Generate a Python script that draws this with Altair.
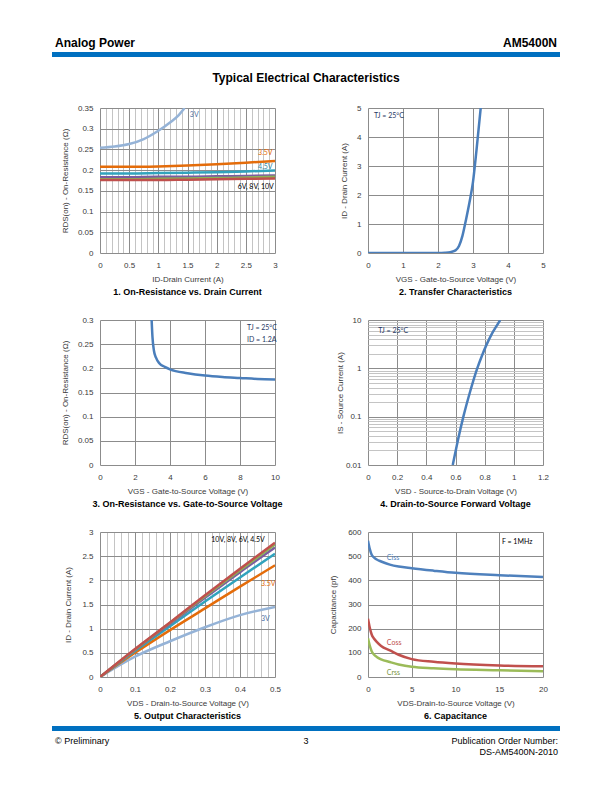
import altair as alt
import pandas as pd

FONT = "Liberation Sans"
ANN_FONT = "Lato"
W, H = 175, 145
MAJOR = "#8c8c8c"
MINOR = "#c4c4c4"
TXT = "#3a3a3a"
BAR = "#0070c0"
CURVE = "#4a7ebb"

# ---------- 1. On-Resistance vs. Drain Current ----------
c1_id_3v = [0, 0.25, 0.5, 0.75, 1.0, 1.2, 1.35, 1.45]
c1_rds_3v = [0.254, 0.257, 0.263, 0.275, 0.295, 0.315, 0.333, 0.350]
c1_id = [0, 0.5, 1.0, 1.5, 2.0, 2.5, 3.0]
c1_rds_3p5 = [0.208, 0.208, 0.209, 0.211, 0.214, 0.218, 0.222]
c1_rds_4p5 = [0.192, 0.192, 0.193, 0.194, 0.195, 0.197, 0.199]
c1_rds_6 = [0.183, 0.183, 0.184, 0.184, 0.185, 0.186, 0.187]
c1_rds_8 = [0.178, 0.178, 0.179, 0.180, 0.181, 0.182, 0.184]
c1_rds_10 = [0.176, 0.176, 0.176, 0.177, 0.178, 0.179, 0.180]
c1_names = ["3V", "3.5V", "4.5V", "6V", "8V", "10V"]
c1_colors = ["#95b3d7", "#e46c0a", "#31a3bd", "#7a5ca0", "#8db255", "#c0504d"]
c1_ann_text = ["3V", "3.5V", "4.5V", "6V, 8V, 10V"]
c1_ann_x = [1.54, 2.71, 2.71, 2.36]
c1_ann_y = [0.334, 0.242, 0.208, 0.159]
c1_ann_color = ["#4f6fa5", "#e46c0a", "#31859c", "#000000"]

# ---------- 2. Transfer Characteristics ----------
c2_vgs = [0, 1, 2, 2.2, 2.35, 2.5, 2.6, 2.7, 2.8, 2.9, 3.0, 3.1, 3.22]
c2_id = [0, 0, 0.002, 0.01, 0.03, 0.09, 0.24, 0.6, 1.15, 1.75, 2.45, 3.55, 5.0]
c2_ann_text = ["TJ = 25°C"]
c2_ann_x = [0.17]
c2_ann_y = [4.72]
c2_ann_color = ["#1f3864"]

# ---------- 3. On-Resistance vs. Gate-to-Source Voltage ----------
c3_vgs = [2.95, 3.0, 3.08, 3.2, 3.4, 3.7, 4, 5, 6, 7, 8, 9, 10]
c3_rds = [0.300, 0.264, 0.237, 0.222, 0.210, 0.203, 0.198, 0.190, 0.185, 0.182, 0.180, 0.178, 0.177]
c3_ann_text = ["TJ = 25°C", "ID = 1.2A"]
c3_ann_x = [8.4, 8.4]
c3_ann_y = [0.2835, 0.2585]
c3_ann_color = ["#1f3864", "#1f3864"]

# ---------- 4. Drain-to-Source Forward Voltage ----------
c4_vsd = [0.581, 0.615, 0.654, 0.699, 0.749, 0.78, 0.81, 0.85, 0.88, 0.907]
c4_is = [0.01, 0.031, 0.1, 0.32, 1.0, 1.78, 2.95, 5.25, 7.4, 10]
c4_ann_text = ["TJ = 25°C"]
c4_ann_x = [0.07]
c4_ann_y = [6.0]
c4_ann_color = ["#1f3864"]

# ---------- 5. Output Characteristics ----------
c5_vds = [0, 0.1, 0.2, 0.3, 0.4, 0.5]
c5_id_3v = [0, 0.42, 0.74, 1.03, 1.28, 1.45]
c5_id_3p5 = [0, 0.50, 0.97, 1.42, 1.87, 2.31]
c5_id_4p5 = [0, 0.54, 1.05, 1.56, 2.06, 2.55]
c5_id_6 = [0, 0.56, 1.10, 1.64, 2.17, 2.68]
c5_id_8 = [0, 0.57, 1.12, 1.67, 2.21, 2.74]
c5_id_10 = [0, 0.58, 1.13, 1.69, 2.24, 2.78]
c5_names = ["3V", "3.5V", "4.5V", "6V", "8V", "10V"]
c5_colors = ["#95b3d7", "#e46c0a", "#31a3bd", "#7a5ca0", "#8db255", "#c0504d"]
c5_ann_text = ["10V, 8V, 6V, 4.5V", "3.5V", "3V"]
c5_ann_x = [0.318, 0.46, 0.46]
c5_ann_y = [2.834, 1.924, 1.2]
c5_ann_color = ["#000000", "#e46c0a", "#4f6fa5"]

# ---------- 6. Capacitance ----------
c6_vds = [0, 0.2, 0.42, 0.7, 1, 1.5, 2.5, 3.5, 5, 7.5, 10, 15, 20]
c6_ciss = [564, 530, 506, 494, 486, 478, 465, 457, 450, 440, 431, 421, 414]
c6_coss = [241, 205, 176, 158, 145, 128, 110, 92, 74, 63, 56, 48, 44]
c6_crss = [160, 130, 107, 92, 83, 73, 62, 52, 42, 36, 32, 28, 24]
c6_names = ["Ciss", "Coss", "Crss"]
c6_colors = ["#4f81bd", "#c0504d", "#9bbb59"]
c6_ann_text = ["Ciss", "Coss", "Crss", "F = 1MHz"]
c6_ann_x = [2.15, 2.15, 2.15, 15.3]
c6_ann_y = [492, 141, 17, 560]
c6_ann_color = ["#4f81bd", "#c0504d", "#77933c", "#000000"]


def series_df(items):
    rows = []
    for name, xs, ys in items:
        for a, b in zip(xs, ys):
            rows.append({"x": a, "y": b, "s": name})
    return pd.DataFrame(rows)


def ann_df(t, x, y, c):
    return pd.DataFrame({"t": t, "x": x, "y": y, "c": c})


def xaxis(values, title, major_test=None):
    kw = dict(values=values, title=title, grid=True, labelOverlap=False, labelFlush=False,
              titleX=W / 2, titleY=26, titleBaseline="middle", titleAlign="center",
              labelPadding=8)
    if major_test:
        kw["gridColor"] = {"condition": {"test": major_test, "value": MAJOR}, "value": MINOR}
        kw["labelExpr"] = f"({major_test}) ? format(datum.value, '~r') : ''"
    else:
        kw["format"] = "~r"
    return alt.Axis(**kw)


def yaxis(values, title, tx, major_test=None):
    kw = dict(values=values, title=title, grid=True, labelOverlap=False, labelFlush=False,
              titleX=tx, titleY=H / 2, titleAngle=270, titleBaseline="middle",
              titleAlign="center", labelPadding=7)
    if major_test:
        kw["gridColor"] = {"condition": {"test": major_test, "value": MAJOR}, "value": MINOR}
        kw["labelExpr"] = f"({major_test}) ? format(datum.value, '~r') : ''"
    else:
        kw["format"] = "~r"
    return alt.Axis(**kw)


def txt(s, x, y, size, weight="normal", align="left", color="#000000"):
    return alt.Chart(pd.DataFrame({"t": [s]})).mark_text(
        font=FONT, fontSize=size, fontWeight=weight, align=align, baseline="middle", color=color
    ).encode(x=alt.value(x), y=alt.value(y), text="t:N")


def bar(x1, x2, y1, y2, color=BAR, opacity=1.0):
    return alt.Chart(pd.DataFrame({"a": [0]})).mark_rect(color=color, opacity=opacity).encode(
        x=alt.value(x1), x2=alt.value(x2), y=alt.value(y1), y2=alt.value(y2))


def panel(df, names, colors, xsc, ysc, xax, yax, ann, caption, extra=()):
    lines = alt.Chart(df).mark_line(strokeWidth=2.5, interpolate="monotone", clip=True).encode(
        x=alt.X("x:Q", scale=xsc, axis=xax),
        y=alt.Y("y:Q", scale=ysc, axis=yax),
        color=alt.Color("s:N", scale=alt.Scale(domain=names, range=colors), legend=None),
    )
    notes = alt.Chart(ann).mark_text(font=ANN_FONT, fontSize=7, align="left", baseline="middle").encode(
        x=alt.X("x:Q", scale=xsc, axis=xax),
        y=alt.Y("y:Q", scale=ysc, axis=yax),
        text="t:N",
        color=alt.Color("c:N", scale=None),
    )
    cap = txt(caption, W / 2, H + 39, 9, weight="bold", align="center")
    return alt.layer(lines, notes, cap, *extra).properties(width=W, height=H)


# ---- panel 1
x1 = [round(i * 0.1, 1) for i in range(31)]
y1 = [0, 0.05, 0.1, 0.15, 0.2, 0.25, 0.3, 0.35]
header = [
    bar(-92, -91, -100, -99, color="#ffffff", opacity=0),
    txt("Analog Power", -45, -65, 12, weight="bold"),
    txt("AM5400N", 457, -65, 12, weight="bold", align="right"),
    bar(-48, 460, -56, -51),
    txt("Typical Electrical Characteristics", 206, -30, 12, weight="bold", align="center"),
]
p1 = panel(
    series_df([("3V", c1_id_3v, c1_rds_3v), ("3.5V", c1_id, c1_rds_3p5), ("4.5V", c1_id, c1_rds_4p5),
               ("6V", c1_id, c1_rds_6), ("8V", c1_id, c1_rds_8), ("10V", c1_id, c1_rds_10)]),
    c1_names, c1_colors,
    alt.Scale(domain=[0, 3], nice=False, zero=False),
    alt.Scale(domain=[0, 0.35], nice=False, zero=False),
    xaxis(x1, "ID-Drain Current (A)", "abs(datum.value*2 - round(datum.value*2)) < 0.001"),
    yaxis(y1, "RDS(on) - On-Resistance (Ω)", -35),
    ann_df(c1_ann_text, c1_ann_x, c1_ann_y, c1_ann_color),
    "1. On-Resistance vs. Drain Current",
    header,
)

# ---- panel 2
p2 = panel(
    series_df([("ID", c2_vgs, c2_id)]), ["ID"], [CURVE],
    alt.Scale(domain=[0, 5], nice=False, zero=False),
    alt.Scale(domain=[0, 5], nice=False, zero=False),
    xaxis([0, 1, 2, 3, 4, 5], "VGS - Gate-to-Source Voltage (V)"),
    yaxis([0, 1, 2, 3, 4, 5], "ID - Drain Current (A)", -24),
    ann_df(c2_ann_text, c2_ann_x, c2_ann_y, c2_ann_color),
    "2. Transfer Characteristics",
)

# ---- panel 3
p3 = panel(
    series_df([("R", c3_vgs, c3_rds)]), ["R"], [CURVE],
    alt.Scale(domain=[0, 10], nice=False, zero=False),
    alt.Scale(domain=[0, 0.3], nice=False, zero=False),
    xaxis([0, 2, 4, 6, 8, 10], "VGS - Gate-to-Source Voltage (V)"),
    yaxis([0, 0.05, 0.1, 0.15, 0.2, 0.25, 0.3], "RDS(on) - On-Resistance (Ω)", -35),
    ann_df(c3_ann_text, c3_ann_x, c3_ann_y, c3_ann_color),
    "3. On-Resistance vs. Gate-to-Source Voltage",
)

# ---- panel 4
y4 = [round(m * 10 ** e, 4) for e in (-2, -1, 0) for m in range(1, 10)] + [10]
p4 = panel(
    series_df([("IS", c4_vsd, c4_is)]), ["IS"], [CURVE],
    alt.Scale(domain=[0, 1.2], nice=False, zero=False),
    alt.Scale(type="log", domain=[0.01, 10], nice=False),
    xaxis([0, 0.2, 0.4, 0.6, 0.8, 1.0, 1.2], "VSD - Source-to-Drain Voltage (V)"),
    yaxis(y4, "IS - Source Current (A)", -28,
          "abs(log(datum.value)/LN10 - round(log(datum.value)/LN10)) < 0.001"),
    ann_df(c4_ann_text, c4_ann_x, c4_ann_y, c4_ann_color),
    "4. Drain-to-Source Forward Voltage",
)

# ---- panel 5
x5 = [round(i * 0.02, 2) for i in range(26)]
footer = [
    bar(-48, 460, 194, 199),
    txt("© Preliminary", -45, 209, 9),
    txt("3", 206, 209, 9, align="center"),
    txt("Publication Order Number:", 458, 209, 9, align="right"),
    txt("DS-AM5400N-2010", 458, 220, 9, align="right"),
]
p5 = panel(
    series_df([("3V", c5_vds, c5_id_3v), ("3.5V", c5_vds, c5_id_3p5), ("4.5V", c5_vds, c5_id_4p5),
               ("6V", c5_vds, c5_id_6), ("8V", c5_vds, c5_id_8), ("10V", c5_vds, c5_id_10)]),
    c5_names, c5_colors,
    alt.Scale(domain=[0, 0.5], nice=False, zero=False),
    alt.Scale(domain=[0, 3], nice=False, zero=False),
    xaxis(x5, "VDS - Drain-to-Source Voltage (V)", "abs(datum.value*10 - round(datum.value*10)) < 0.001"),
    yaxis([0, 0.5, 1, 1.5, 2, 2.5, 3], "ID - Drain Current (A)", -32),
    ann_df(c5_ann_text, c5_ann_x, c5_ann_y, c5_ann_color),
    "5. Output Characteristics",
    footer,
)

# ---- panel 6
p6 = panel(
    series_df([("Ciss", c6_vds, c6_ciss), ("Coss", c6_vds, c6_coss), ("Crss", c6_vds, c6_crss)]),
    c6_names, c6_colors,
    alt.Scale(domain=[0, 20], nice=False, zero=False),
    alt.Scale(domain=[0, 600], nice=False, zero=False),
    xaxis([0, 5, 10, 15, 20], "VDS-Drain-to-Source Voltage (V)"),
    yaxis([0, 100, 200, 300, 400, 500, 600], "Capacitance (pf)", -35),
    ann_df(c6_ann_text, c6_ann_x, c6_ann_y, c6_ann_color),
    "6. Capacitance",
)

chart = alt.concat(
    p1, p2, p3, p4, p5, p6, columns=2, spacing={"row": 67, "column": 93}, bounds="flush"
).resolve_scale(color="independent", x="independent", y="independent").resolve_axis(
    x="independent", y="independent"
).properties(padding=0, background="white").configure_view(stroke=None).configure_axis(
    labelFont=FONT, labelFontSize=8, labelColor=TXT,
    titleFont=FONT, titleFontSize=8, titleFontWeight="normal", titleColor=TXT,
    domain=False, ticks=False, gridColor=MAJOR, gridOpacity=1, gridWidth=1,
)

chart.save("out.html", embed_options={"renderer": "svg", "actions": False})
